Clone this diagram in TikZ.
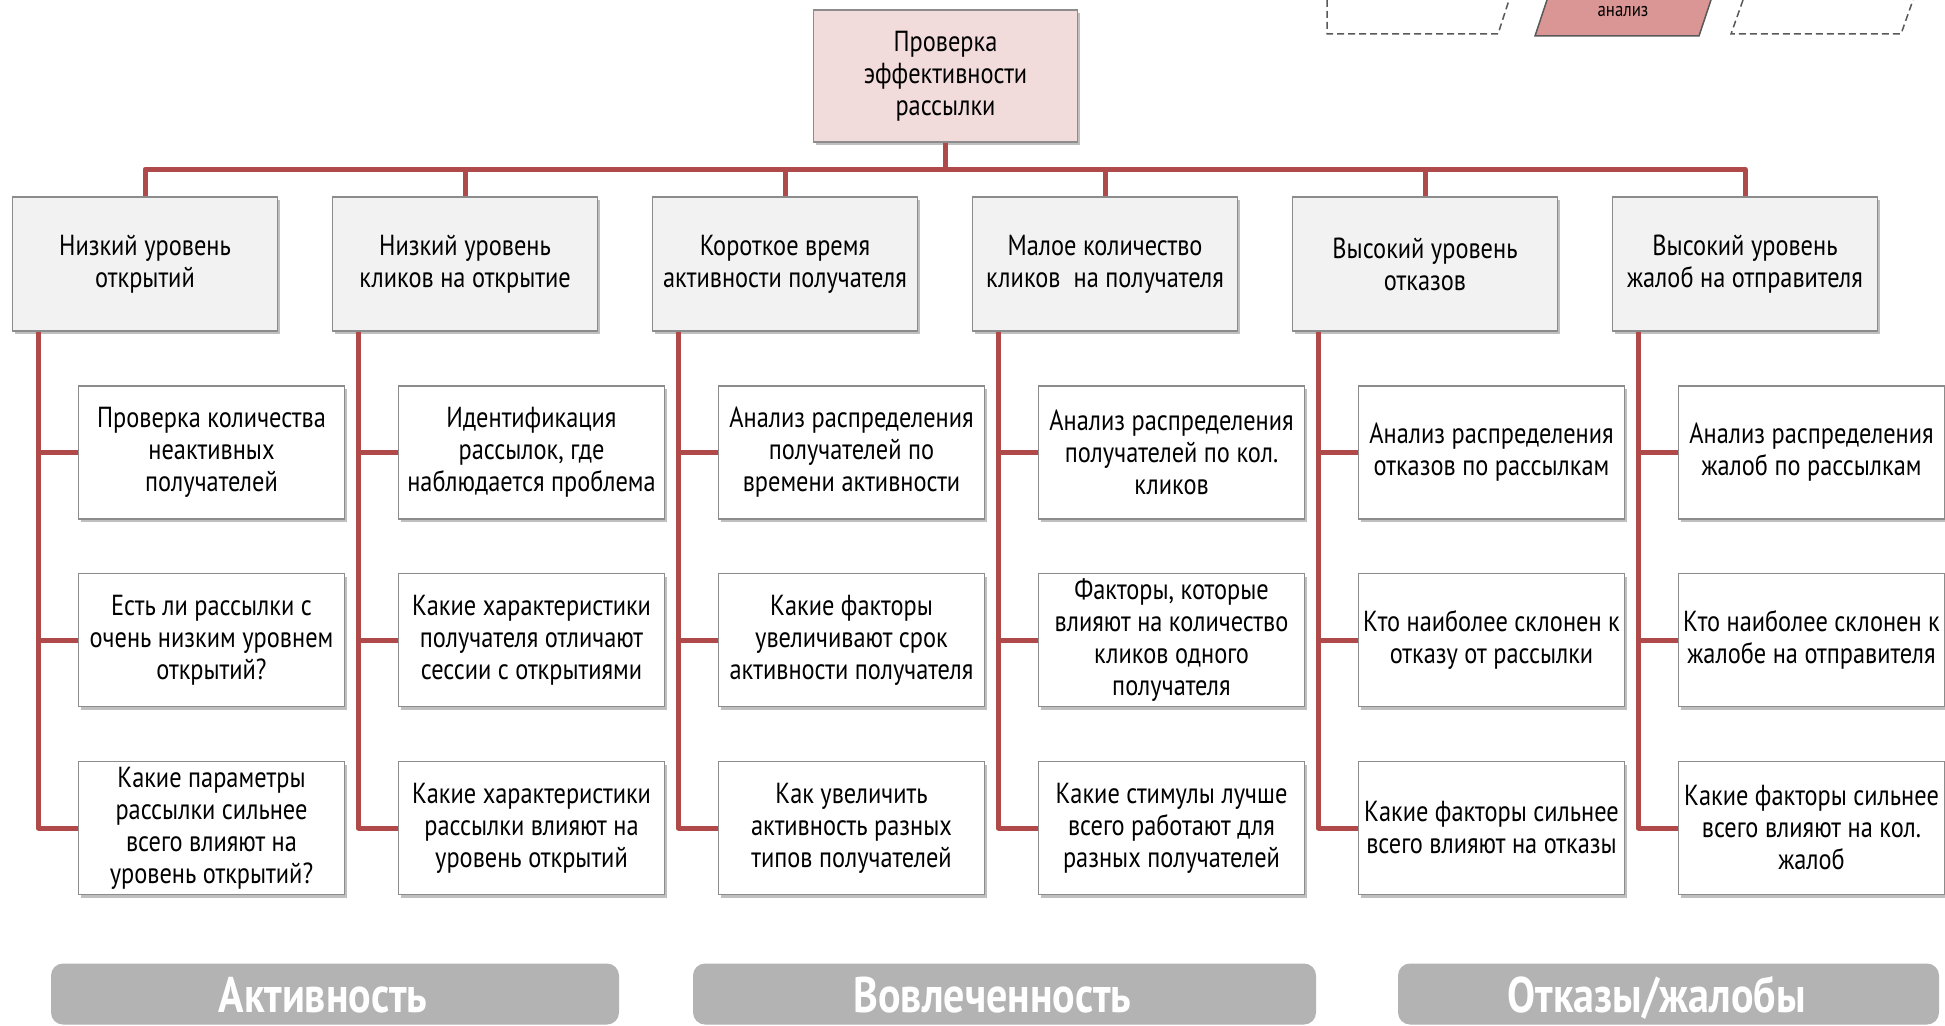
\documentclass[tikz,border=0pt]{standalone}
\usepackage{fontspec}
\setmainfont[FakeStretch=0.84]{PT Sans}
\usetikzlibrary{shadows}
\definecolor{conn}{HTML}{B04A4A}
\definecolor{boxline}{HTML}{8C8C8C}
\definecolor{hdrfill}{HTML}{F2F2F2}
\definecolor{topfill}{HTML}{F2DCDB}
\definecolor{barfill}{HTML}{B3B3B3}
\definecolor{redpar}{HTML}{D99694}
\definecolor{decoline}{HTML}{595959}
\tikzset{
 base/.style={draw=boxline, line width=1.5pt, align=center, inner sep=0pt,
   font=\fontsize{29}{32}\selectfont,
   drop shadow={shadow xshift=2pt, shadow yshift=-3pt, opacity=0.25, fill=black}},
 topbox/.style={base, fill=topfill, minimum width=264pt, minimum height=132pt},
 hdrbox/.style={base, fill=hdrfill, minimum width=265pt, minimum height=134pt},
 qbox/.style={base, fill=white, minimum width=266pt, minimum height=133pt},
 link/.style={draw=conn, line width=5pt, line join=round},
 bar/.style={fill=barfill, rounded corners=12pt, minimum height=61pt, text=white,
   font=\bfseries\fontsize{50}{54}\selectfont, inner sep=0pt,
   text height=36pt, text depth=0pt},
 deco/.style={draw=decoline, line width=1.5pt, dash pattern=on 7pt off 4pt}
}
\begin{document}
\begin{tikzpicture}[x=1pt,y=-1pt]
\useasboundingbox (0,0) rectangle (1945,1025);
\clip (0,0) rectangle (1945,1025);
\fill[white] (0,0) rectangle (1945,1025);

% top-right fragment
\draw[deco] (1327,0) -- (1327,34) -- (1498,34) -- (1509,0);
\draw[deco] (1743,0) -- (1731,34) -- (1901,34) -- (1913,0);
\fill[redpar] (1547,0) -- (1535,36) -- (1699,36) -- (1711,0) -- cycle;
\draw[draw=decoline, line width=1.5pt] (1547,0) -- (1535,36) -- (1699,36) -- (1711,0);
\node[font=\fontsize{20}{22}\selectfont, inner sep=0pt] (anl) at (1623,12) {анализ};

% root
\node[topbox] (top) at (945.5,76) {Проверка\\эффективности\\рассылки};

% headers
\node[hdrbox] (h1) at (145,264) {Низкий уровень\\открытий};
\node[hdrbox] (h2) at (465,264) {Низкий уровень\\кликов на открытие};
\node[hdrbox] (h3) at (785,264) {Короткое время\\активности получателя};
\node[hdrbox] (h4) at (1105,264) {Малое количество\\кликов\ \ на получателя};
\node[hdrbox] (h5) at (1425,264) {Высокий уровень\\отказов};
\node[hdrbox] (h6) at (1745,264) {Высокий уровень\\жалоб на отправителя};

% column 1
\node[qbox] (c11) at (211.5,452.5) {Проверка количества\\неактивных\\получателей};
\node[qbox] (c12) at (211.5,640) {Есть ли рассылки с\\очень низким уровнем\\открытий?};
\node[qbox] (c13) at (211.5,828) {Какие параметры\\рассылки сильнее\\всего влияют на\\уровень открытий?};
% column 2
\node[qbox] (c21) at (531.5,452.5) {Идентификация\\рассылок, где\\наблюдается проблема};
\node[qbox] (c22) at (531.5,640) {Какие характеристики\\получателя отличают\\сессии с открытиями};
\node[qbox] (c23) at (531.5,828) {Какие характеристики\\рассылки влияют на\\уровень открытий};
% column 3
\node[qbox] (c31) at (851.5,452.5) {Анализ распределения\\получателей по\\времени активности};
\node[qbox] (c32) at (851.5,640) {Какие факторы\\увеличивают срок\\активности получателя};
\node[qbox] (c33) at (851.5,828) {Как увеличить\\активность разных\\типов получателей};
% column 4
\node[qbox] (c41) at (1171.5,452.5) {Анализ распределения\\получателей по кол.\\кликов};
\node[qbox] (c42) at (1171.5,640) {Факторы, которые\\влияют на количество\\кликов одного\\получателя};
\node[qbox] (c43) at (1171.5,828) {Какие стимулы лучше\\всего работают для\\разных получателей};
% column 5
\node[qbox] (c51) at (1491.5,452.5) {Анализ распределения\\отказов по рассылкам};
\node[qbox] (c52) at (1491.5,640) {Кто наиболее склонен к\\отказу от рассылки};
\node[qbox] (c53) at (1491.5,828) {Какие факторы сильнее\\всего влияют на отказы};
% column 6
\node[qbox] (c61) at (1811.5,452.5) {Анализ распределения\\жалоб по рассылкам};
\node[qbox] (c62) at (1811.5,640) {Кто наиболее склонен к\\жалобе на отправителя};
\node[qbox] (c63) at (1811.5,828) {Какие факторы сильнее\\всего влияют на кол.\\жалоб};

% connectors
\foreach \i in {1,...,6}{
  \draw[link] (top.south) -- ++(0,26.5) -| (h\i.north);
  \foreach \j in {1,2,3}{
    \draw[link] ([xshift=-106.5pt]h\i.south) |- (c\i\j.west);
  }
}

% bottom bars
\node[bar, minimum width=568pt] (b1) at (335,994) {Активность\hspace*{24pt}};
\node[bar, minimum width=623pt] (b2) at (1004.5,994) {Вовлеченность\hspace*{24pt}};
\node[bar, minimum width=541pt] (b3) at (1668.5,994) {Отказы/жалобы\hspace*{24pt}};
\end{tikzpicture}
\end{document}
